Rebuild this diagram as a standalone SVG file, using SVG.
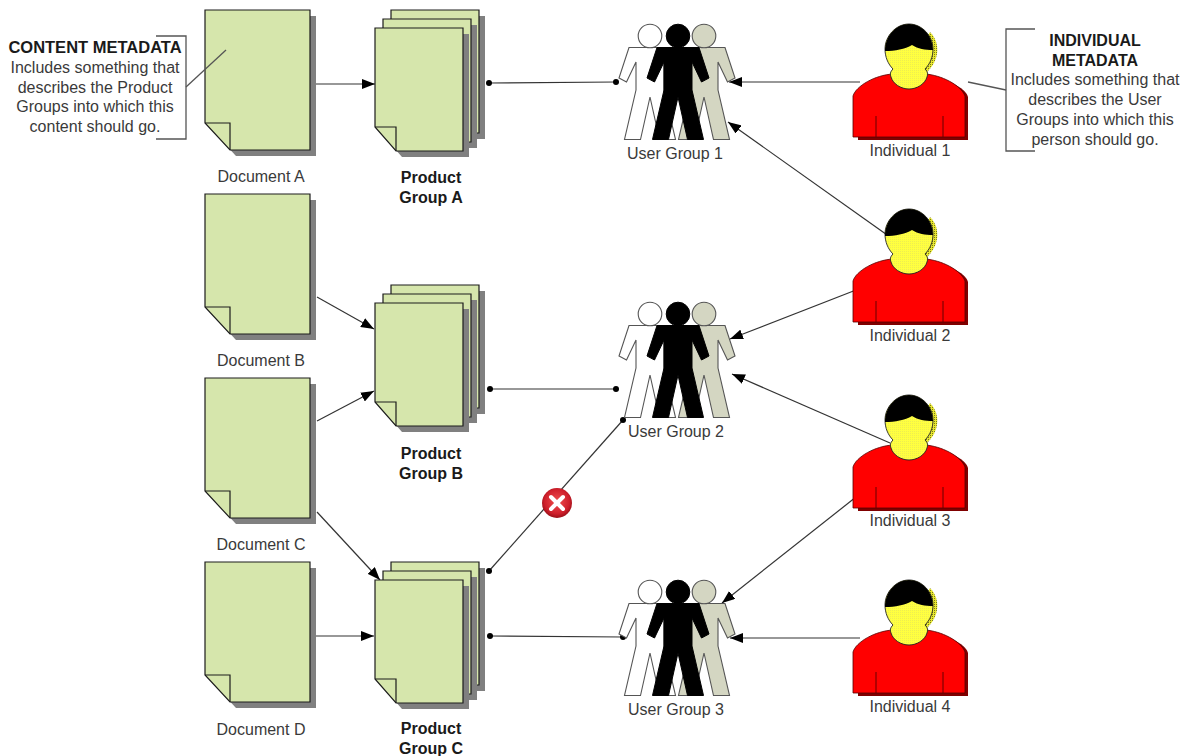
<svg xmlns="http://www.w3.org/2000/svg" width="1193" height="756" viewBox="0 0 1193 756">
<style>
text{font-family:"Liberation Sans",Arial,sans-serif;font-size:16px;fill:#3a3a3a;text-anchor:middle}
.b{font-weight:bold;fill:#1a1a1a}
.paper{fill:#d6e6ac;stroke:#1c1c1c;stroke-width:1.2}
.fold{fill:none;stroke:#1c1c1c;stroke-width:1.2}
.sh{fill:#808080}
.c{fill:none;stroke:#333;stroke-width:1.2}
.g{fill:none;stroke:#555;stroke-width:1.3}
</style>
<defs>
<marker id="arr" viewBox="0 0 13 10" refX="13" refY="5" markerWidth="13" markerHeight="10" markerUnits="userSpaceOnUse" orient="auto"><path d="M0 0L13 5L0 10Z" fill="#000"/></marker>
<marker id="dot" viewBox="0 0 6 6" refX="3" refY="3" markerWidth="6" markerHeight="6" markerUnits="userSpaceOnUse"><circle cx="3" cy="3" r="3" fill="#000"/></marker>
<pattern id="ht" width="2" height="2" patternUnits="userSpaceOnUse"><rect width="2" height="2" fill="#ffff40"/><rect width="1" height="1" fill="#eeee50"/></pattern>
<pattern id="ht2" width="2" height="2" patternUnits="userSpaceOnUse"><rect width="2" height="2" fill="#e8e830"/><rect width="1" height="1" fill="#77771a"/></pattern>
<radialGradient id="err" cx="50%" cy="45%" r="55%"><stop offset="0" stop-color="#f05050"/><stop offset="0.75" stop-color="#cf1f2b"/><stop offset="1" stop-color="#9a1018"/></radialGradient>
<g id="doc">
<path class="sh" d="M6 6H111V146H31L6 119Z"/>
<path class="paper" d="M0 0H105V140H25L0 113Z"/>
<path class="fold" d="M0 113H25V140"/>
</g>
<g id="sheet">
<path class="sh" d="M6 6H94V129H27L6 105Z"/>
<path class="paper" d="M0 0H88V123H21L0 99Z"/>
</g>
<g id="stack">
<use href="#sheet" x="16" y="0"/>
<use href="#sheet" x="8" y="9"/>
<use href="#sheet" x="0" y="18"/>
<path class="fold" d="M0 117H21V141"/>
</g>
<path id="fig" d="M-21 47.500H21L31 78L23.500 82L14 62L14 90L25.500 139.500H9.500L0 97L-9.500 139.500H-25.500L-14 90L-14 62L-23.500 82L-31 78Z"/>
<g id="ug">
<g fill="#fff" stroke="#555" stroke-width="1.1"><use href="#fig" x="650" y="0"/><circle cx="650" cy="36" r="11.800"/></g>
<g fill="#d4d6c2" stroke="#555" stroke-width="1.1"><use href="#fig" x="704" y="0"/><circle cx="704" cy="36" r="11.800"/></g>
<g fill="#000" stroke="#000"><use href="#fig" x="678" y="0"/><circle cx="678" cy="36" r="11.800"/></g>
</g>
<g id="person">
<path d="M930 32C940 42 941 60 925 74L918 68L925 40Z" fill="url(#ht2)"/>
<path d="M858 137V97C860 88 880 77 896 77H928C944 77 966 88 968 97V140H858Z" fill="#800000"/>
<path d="M853 137V96C856 86 875 75 893 74H925C941 75 961 85 965 96V137Z" fill="#f00" stroke="#500" stroke-width="0.800"/>
<path d="M876 116V137M943 116V137" stroke="#600" stroke-width="1" fill="none"/>
<path d="M885 49C885 36 896 24 909 24C922 24 933 36 933 49C933 57 930 64 925 69C928 72 928 74 927 77C925 84 917 89 909 89C901 89 893 84 891 77C890 74 890 72 893 69C888 64 885 57 885 49Z" fill="url(#ht)" stroke="#222" stroke-width="0.900"/>
<path d="M885 51C885 36 896 24 909 24C922 24 933 36 933 50C925 50 918 49 912 45C905 49 895 51 885 51Z" fill="#000"/>
</g>
</defs>
<rect width="1193" height="756" fill="#fff"/>
<g id="connectors">
<path class="c" marker-end="url(#arr)" d="M316 84H375"/>
<path class="c" marker-end="url(#arr)" d="M317 297L374 329"/>
<path class="c" marker-end="url(#arr)" d="M317 421L374 391"/>
<path class="c" marker-end="url(#arr)" d="M317 512L380 580"/>
<path class="c" marker-end="url(#arr)" d="M316 636H374"/>
<path class="c" marker-start="url(#dot)" marker-end="url(#dot)" d="M489 83L616 82"/>
<path class="c" marker-start="url(#dot)" marker-end="url(#dot)" d="M490 389H616"/>
<path class="c" marker-start="url(#dot)" marker-end="url(#dot)" d="M489 571L623 420"/>
<path class="c" marker-start="url(#dot)" marker-end="url(#dot)" d="M490 636L623 637"/>
<path class="c" marker-end="url(#arr)" d="M860 82H729"/>
<path class="c" marker-end="url(#arr)" d="M890 237L728 122"/>
<path class="c" marker-end="url(#arr)" d="M856 290L730 339"/>
<path class="c" marker-end="url(#arr)" d="M890 443L732 374"/>
<path class="c" marker-end="url(#arr)" d="M856 497L722 603"/>
<path class="c" marker-end="url(#arr)" d="M860 638H730"/>
</g>
<g id="doc-a"><use href="#doc" x="205" y="10"/><text x="261" y="182">Document A</text></g>
<g id="doc-b"><use href="#doc" x="205" y="194"/><text x="261" y="366">Document B</text></g>
<g id="doc-c"><use href="#doc" x="205" y="378"/><text x="261" y="550">Document C</text></g>
<g id="doc-d"><use href="#doc" x="205" y="562"/><text x="261" y="735">Document D</text></g>
<g id="product-a"><use href="#stack" x="375" y="10"/><text class="b" x="431" y="183">Product</text><text class="b" x="431" y="203">Group A</text></g>
<g id="product-b"><use href="#stack" x="375" y="285"/><text class="b" x="431" y="459">Product</text><text class="b" x="431" y="479">Group B</text></g>
<g id="product-c"><use href="#stack" x="375" y="562"/><text class="b" x="431" y="734">Product</text><text class="b" x="431" y="754">Group C</text></g>
<g id="user-1"><use href="#ug"/><text x="675" y="159">User Group 1</text></g>
<g id="user-2"><use href="#ug" y="278"/><text x="676" y="437">User Group 2</text></g>
<g id="user-3"><use href="#ug" y="556"/><text x="676" y="715">User Group 3</text></g>
<g id="individual-1"><use href="#person"/><text x="910" y="156">Individual 1</text></g>
<g id="individual-2"><use href="#person" y="185"/><text x="910" y="341">Individual 2</text></g>
<g id="individual-3"><use href="#person" y="371"/><text x="910" y="526">Individual 3</text></g>
<g id="individual-4"><use href="#person" y="556"/><text x="910" y="712">Individual 4</text></g>
<g id="error-icon">
<circle cx="557" cy="503" r="15" fill="url(#err)"/>
<path d="M551 497L563 509M563 497L551 509" stroke="#fff" stroke-width="4" stroke-linecap="round"/>
</g>
<g id="content-metadata">
<path class="g" d="M156 36H186V139H156"/>
<path class="g" d="M186 87L226 50"/>
<text class="b" style="font-size:16.5px" x="95" y="53">CONTENT METADATA</text>
<text x="95" y="73">Includes something that</text>
<text x="95" y="93">describes the Product</text>
<text x="95" y="112">Groups into which this</text>
<text x="95" y="132">content should go.</text>
</g>
<g id="individual-metadata">
<path class="g" d="M1035 29H1006V151H1035"/>
<path class="g" d="M1006 90L968 82"/>
<text class="b" x="1095" y="46">INDIVIDUAL</text>
<text class="b" x="1095" y="66">METADATA</text>
<text x="1095" y="85">Includes something that</text>
<text x="1095" y="105">describes the User</text>
<text x="1095" y="125">Groups into which this</text>
<text x="1095" y="145">person should go.</text>
</g>
</svg>
